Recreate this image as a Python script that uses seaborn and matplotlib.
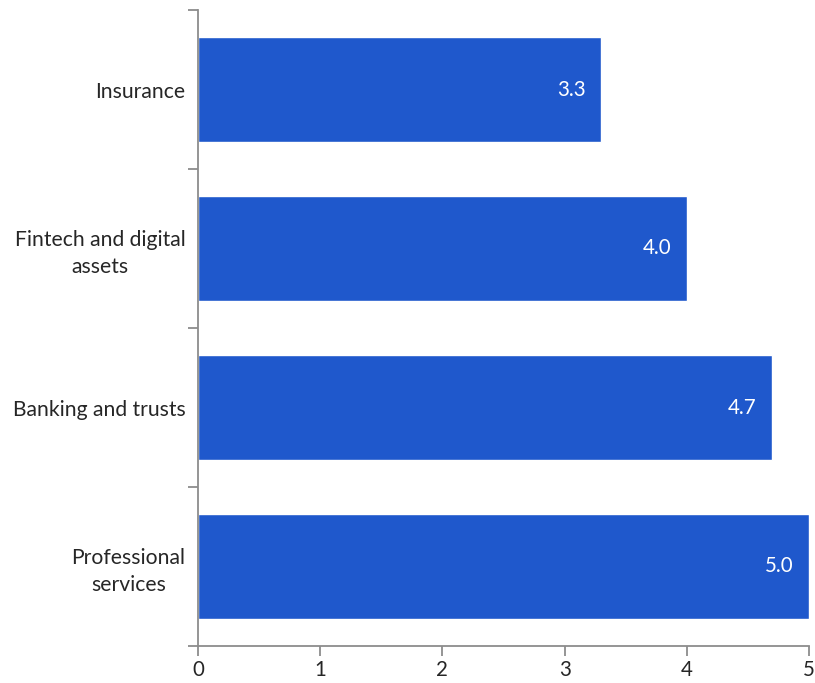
import matplotlib
matplotlib.use("Agg")
import matplotlib.pyplot as plt
import seaborn as sns
import pandas as pd

categories = ["Insurance", "Fintech and digital\nassets", "Banking and trusts", "Professional\nservices"]
values = [3.3, 4.0, 4.7, 5.0]
x_ticks = [0, 1, 2, 3, 4, 5]

sns.set_theme(style="white")
plt.rcParams["font.family"] = ["Lato", "DejaVu Sans"]

df = pd.DataFrame({"sector": categories, "value": values})

fig = plt.figure(figsize=(8.15, 6.83), dpi=100)
ax = fig.add_axes([198 / 815, 1 - 646 / 683, (809 - 198) / 815, (646 - 10) / 683])

bar_color = "#1f58cc"
sns.barplot(data=df, x="value", y="sector", orient="h", color=bar_color,
            width=0.66, saturation=1, ax=ax)

ax.set_xlim(0, 5)
ax.set_ylim(3.5, -0.5)
ax.set_xlabel("")
ax.set_ylabel("")

# value labels inside the bar ends
for i, v in enumerate(values):
    ax.text(v - 0.13, i, f"{v:.1f}", ha="right", va="center",
            color="white", fontsize=14.8)

# category labels at bar centres, tick marks on category boundaries
ax.set_yticks(range(len(categories)))
ax.set_yticklabels(categories, fontsize=15.2, color="#262626", linespacing=1.4,
                   multialignment="center")
ax.set_yticks([i - 0.5 for i in range(len(categories) + 1)], minor=True)
ax.tick_params(axis="y", which="major", length=0, pad=9)
ax.tick_params(axis="y", which="minor", length=7, width=1.3, color="#8c8c8c", left=True)

ax.set_xticks(x_ticks)
ax.set_xticklabels([str(t) for t in x_ticks], fontsize=14.8, color="#262626")
ax.tick_params(axis="x", which="major", length=7, width=1.3, color="#8c8c8c",
               bottom=True, pad=3)

for side in ["top", "right"]:
    ax.spines[side].set_visible(False)
for side in ["left", "bottom"]:
    ax.spines[side].set_color("#8c8c8c")
    ax.spines[side].set_linewidth(1.3)

fig.savefig("out.png", dpi=100)
